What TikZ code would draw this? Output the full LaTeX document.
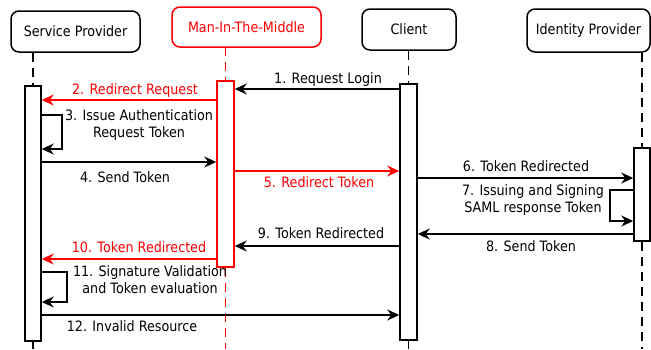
\documentclass[tikz,border=0pt]{standalone}
\usepackage{fontspec}
\setmainfont{DejaVu Sans}[FakeStretch=0.89]
\usetikzlibrary{arrows.meta}
\begin{document}
\begin{tikzpicture}[x=1pt,y=-1pt,
  font=\fontsize{14.3}{17.5}\selectfont,
  head/.style={draw, line width=1.5pt, rounded corners=8pt, inner sep=0pt, fill=white},
  bar/.style={draw, line width=1.5pt, fill=white, inner sep=0pt},
  life/.style={line width=1.2pt, dash pattern=on 9pt off 6pt},
  msg/.style={line width=1.5pt, -{Stealth[length=12pt,width=11pt,inset=4pt]}},
  lbl/.style={inner sep=0pt, text height=10pt, text depth=3pt, align=center},
]
\useasboundingbox (0,0) rectangle (651,349);
% headers
\node[head, minimum width=129pt, minimum height=41pt] (sp) at (75.5,31.5) {Service Provider};
\node[head, draw=red, text=red, minimum width=149pt, minimum height=40pt] (mitm) at (246.5,27) {Man-In-The-Middle};
\node[head, minimum width=94pt, minimum height=41pt] (cl) at (409,29.5) {Client};
\node[head, minimum width=123pt, minimum height=43pt] (idp) at (588.5,30.5) {Identity Provider};
% lifeline end points
\coordinate (spend) at (33,349);
\coordinate (miend) at (225.5,349);
\coordinate (clend) at (408.5,349);
\coordinate (idend) at (642,349);
\coordinate (mitop) at (225.5,47);
% activation bars
\node[bar, minimum width=16pt, minimum height=255pt] (spb) at (33,213.5) {};
\node[bar, draw=red, minimum width=17pt, minimum height=186pt] (mib) at (225.5,174) {};
\node[bar, minimum width=17pt, minimum height=256pt] (clb) at (408.5,212) {};
\node[bar, minimum width=16pt, minimum height=93pt] (idb) at (642,194.5) {};
% lifelines
\draw[life] (sp.south -| spb.north) -- (spb.north);
\draw[life] (spb.south) -- (spend);
\draw[life, red] (mitop) -- (mib.north);
\draw[life, red] (mib.south) -- (miend);
\draw[life] (cl.south -| clb.north) -- (clb.north);
\draw[life] (clb.south) -- (clend);
\draw[life] (idp.south -| idb.north) -- (idb.north);
\draw[life] (idb.south) -- (idend);
% messages
\draw[msg] (clb.west |- 0,89) -- (mib.east |- 0,89);
\node[lbl] (l1) at (328,80) {1. Request Login};
\draw[msg, red] (mib.west |- 0,100) -- (spb.east |- 0,100);
\node[lbl, text=red] (l2) at (135,91) {2. Redirect Request};
\draw[msg] (spb.east |- 0,115) -- (62,115) -- (62,149) -- (spb.east |- 0,149);
\node[lbl] (l3) at (139,134) {3. Issue Authentication\\Request Token};
\draw[msg] (spb.east |- 0,162) -- (mib.west |- 0,162);
\node[lbl] (l4) at (125,179) {4. Send Token};
\draw[msg, red] (mib.east |- 0,171) -- (clb.west |- 0,171);
\node[lbl, text=red] (l5) at (319,184) {5. Redirect Token};
\draw[msg] (clb.east |- 0,178) -- (idb.west |- 0,178);
\node[lbl] (l6) at (526,168) {6. Token Redirected};
\draw[msg] (idb.west |- 0,190) -- (610,190) -- (610,221) -- (idb.west |- 0,221);
\node[lbl] (l7) at (533,209) {7. Issuing and Signing\\SAML response Token};
\draw[msg] (idb.west |- 0,234) -- (clb.east |- 0,234);
\node[lbl] (l8) at (531,248) {8. Send Token};
\draw[msg] (clb.west |- 0,246) -- (mib.east |- 0,246);
\node[lbl] (l9) at (321,235) {9. Token Redirected};
\draw[msg, red] (mib.west |- 0,259) -- (spb.east |- 0,259);
\node[lbl, text=red] (l10) at (139,249) {10. Token Redirected};
\draw[msg] (spb.east |- 0,272) -- (67,272) -- (67,302) -- (spb.east |- 0,302);
\node[lbl] (l11) at (150,290) {11. Signature Validation\\and Token evaluation};
\draw[msg] (spb.east |- 0,315) -- (clb.west |- 0,315);
\node[lbl] (l12) at (132,328) {12. Invalid Resource};
\end{tikzpicture}
\end{document}
